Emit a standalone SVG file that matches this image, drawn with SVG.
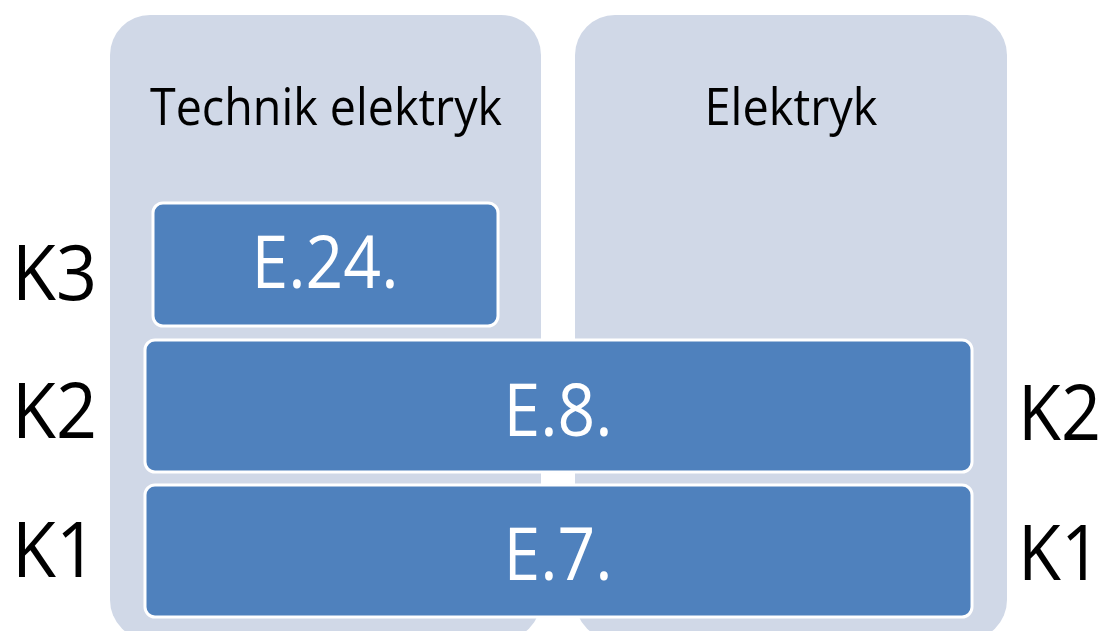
<svg xmlns="http://www.w3.org/2000/svg" width="1108" height="631" viewBox="0 0 1108 631">
<style>
.panel{fill:#D0D8E7}
.box{fill:#4F81BD;stroke:#FFFFFF;stroke-width:3}
.head{font-family:"Open Sans","Liberation Sans",sans-serif;font-size:52px;fill:#000000;text-anchor:middle}
.lbl{font-family:"Open Sans","Liberation Sans",sans-serif;font-size:74px;fill:#FFFFFF;text-anchor:middle}
.k{font-family:"Open Sans","Liberation Sans",sans-serif;font-size:77px;fill:#000000}
</style>
<rect width="1108" height="631" fill="#FFFFFF"/>
<g id="panel-technik">
<rect class="panel" x="110" y="15" width="431" height="625" rx="40"/>
<text class="head" x="326" y="125" textLength="352" lengthAdjust="spacingAndGlyphs">Technik elektryk</text>
</g>
<g id="panel-elektryk">
<rect class="panel" x="575" y="15" width="432" height="625" rx="40"/>
<text class="head" x="791" y="125" textLength="173" lengthAdjust="spacingAndGlyphs">Elektryk</text>
</g>
<g id="box-e24">
<rect class="box" x="153" y="203" width="345" height="123" rx="10"/>
<text class="lbl" x="325" y="288" textLength="147" lengthAdjust="spacingAndGlyphs">E.24.</text>
</g>
<g id="box-e8">
<rect class="box" x="145" y="340" width="827" height="132" rx="10"/>
<text class="lbl" x="558" y="436" textLength="109" lengthAdjust="spacingAndGlyphs">E.8.</text>
</g>
<g id="box-e7">
<rect class="box" x="145" y="485" width="827" height="132" rx="10"/>
<text class="lbl" x="558" y="580" textLength="109" lengthAdjust="spacingAndGlyphs">E.7.</text>
</g>
<g id="labels-k">
<text class="k" x="12" y="300" textLength="85" lengthAdjust="spacingAndGlyphs">K3</text>
<text class="k" x="12" y="438" textLength="85" lengthAdjust="spacingAndGlyphs">K2</text>
<text class="k" x="12" y="577" textLength="85" lengthAdjust="spacingAndGlyphs">K1</text>
<text class="k" x="1018" y="440" textLength="83" lengthAdjust="spacingAndGlyphs">K2</text>
<text class="k" x="1018" y="580" textLength="83" lengthAdjust="spacingAndGlyphs">K1</text>
</g>
<g id="connectors"/>
</svg>
